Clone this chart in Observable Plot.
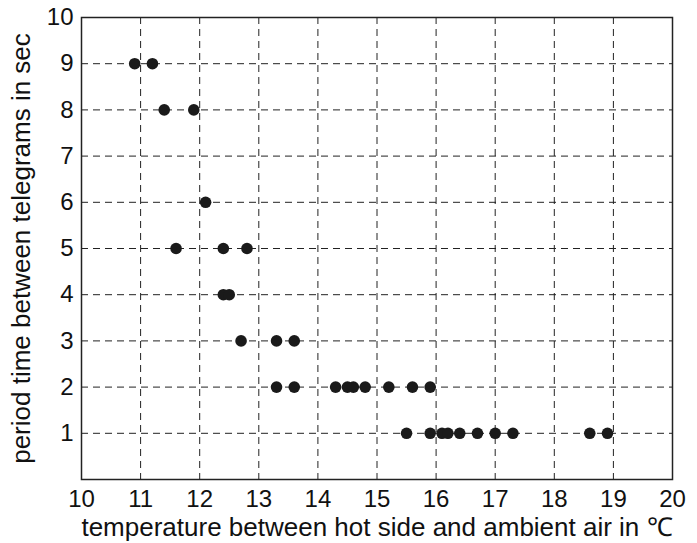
<!DOCTYPE html>
<html>
<head>
<meta charset="utf-8">
<script src="https://cdn.jsdelivr.net/npm/d3@7"></script>
<script src="https://cdn.jsdelivr.net/npm/@observablehq/plot@0.6"></script>
<style>
  html, body { margin: 0; padding: 0; background: #fff; }
</style>
</head>
<body>
<div id="chart"></div>
<script>
// temperature (°C) and period (s) of each measurement
const temperature = [
  10.9, 11.2,
  11.4, 11.9,
  12.1,
  11.6, 12.4, 12.8,
  12.4, 12.5,
  12.7, 13.3, 13.6,
  13.3, 13.6, 14.3, 14.5, 14.6, 14.8, 15.2, 15.6, 15.9,
  15.5, 15.9, 16.1, 16.2, 16.4, 16.7, 17.0, 17.3, 18.6, 18.9
];
const period = [
  9, 9,
  8, 8,
  6,
  5, 5, 5,
  4, 4,
  3, 3, 3,
  2, 2, 2, 2, 2, 2, 2, 2, 2,
  1, 1, 1, 1, 1, 1, 1, 1, 1, 1
];
const xTicks = [10, 11, 12, 13, 14, 15, 16, 17, 18, 19, 20];
const yTicks = [1, 2, 3, 4, 5, 6, 7, 8, 9, 10];
const xLabel = "temperature between hot side and ambient air in \u2103";
const yLabel = "period time between telegrams in sec";

const data = temperature.map((t, i) => ({t, p: period[i]}));

const chart = Plot.plot({
  width: 697,
  height: 543,
  marginLeft: 81,
  marginRight: 25,
  marginTop: 17,
  marginBottom: 64,
  style: {fontFamily: "Liberation Sans, Arial, sans-serif", fontSize: "24px", color: "#111", background: "#fff"},
  x: {domain: [10, 20]},
  y: {domain: [0, 10]},
  marks: [
    Plot.gridX(xTicks.slice(1, -1), {stroke: "#222", strokeOpacity: 1, strokeWidth: 1, strokeDasharray: "7,5"}),
    Plot.gridY(yTicks.slice(0, -1), {stroke: "#222", strokeOpacity: 1, strokeWidth: 1, strokeDasharray: "7,5"}),
    Plot.axisX({ticks: xTicks, tickSize: 0, tickPadding: 10, label: null, fontSize: 24}),
    Plot.axisY({ticks: yTicks, tickSize: 0, tickPadding: 8, label: null, fontSize: 24}),
    Plot.axisX({ticks: [], tickSize: 0, label: xLabel, labelAnchor: "center", labelArrow: "none", labelOffset: 56, fontSize: 26, dx: -8}),
    Plot.axisY({ticks: [], tickSize: 0, label: yLabel, labelAnchor: "center", labelArrow: "none", labelOffset: 70, fontSize: 26, dy: 0}),
    Plot.frame({stroke: "#222", strokeWidth: 1.5}),
    Plot.dot(data, {x: "t", y: "p", r: 5.8, fill: "#1a1a1a", stroke: "none"})
  ]
});
document.getElementById("chart").appendChild(chart);
</script>
</body>
</html>
